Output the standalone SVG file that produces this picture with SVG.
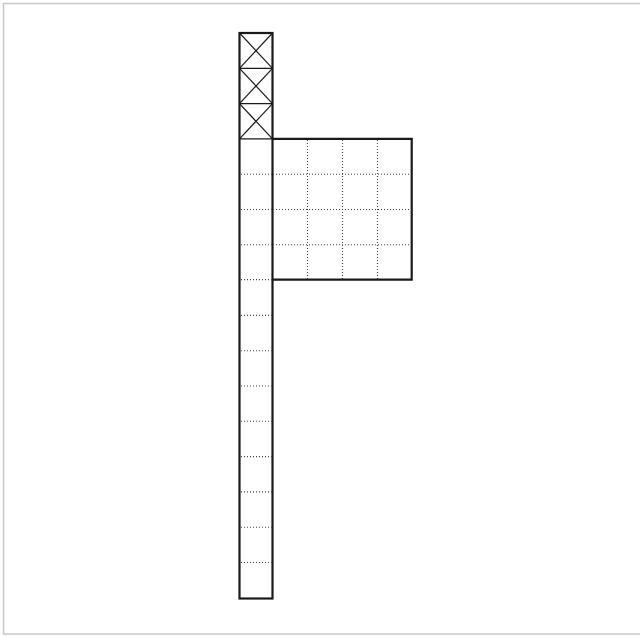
<svg xmlns="http://www.w3.org/2000/svg" width="640" height="636" viewBox="0 0 640 636">
<style>
.frame{fill:none;stroke:#c8c8c8;stroke-width:1.5}
.outline{fill:none;stroke:#1a1a1a;stroke-width:2.2}
.cross{fill:none;stroke:#1a1a1a;stroke-width:1.2}
.dot{fill:none;stroke:#444;stroke-width:1.1;stroke-dasharray:1 2}
</style>
<rect width="640" height="636" fill="#fff"/>
<rect class="frame" x="3.5" y="3.5" width="638" height="630.5"/>
<g id="column">
<rect class="outline" x="239.5" y="33" width="33" height="565.5"/>
<g class="cross">
<line x1="239.5" y1="68.3" x2="272.5" y2="68.3"/>
<line x1="239.5" y1="103.6" x2="272.5" y2="103.6"/>
<line x1="239.5" y1="138.9" x2="272.5" y2="138.9"/>
<line x1="239.5" y1="33" x2="272.5" y2="68.3"/>
<line x1="272.5" y1="33" x2="239.5" y2="68.3"/>
<line x1="239.5" y1="68.3" x2="272.5" y2="103.6"/>
<line x1="272.5" y1="68.3" x2="239.5" y2="103.6"/>
<line x1="239.5" y1="103.6" x2="272.5" y2="138.9"/>
<line x1="272.5" y1="103.6" x2="239.5" y2="138.9"/>
</g>
<g class="dot">
<line x1="241" y1="174.2" x2="272" y2="174.2"/>
<line x1="241" y1="209.5" x2="272" y2="209.5"/>
<line x1="241" y1="244.8" x2="272" y2="244.8"/>
<line x1="241" y1="279.6" x2="272" y2="279.6"/>
<line x1="241" y1="315.4" x2="272" y2="315.4"/>
<line x1="241" y1="350.7" x2="272" y2="350.7"/>
<line x1="241" y1="386" x2="272" y2="386"/>
<line x1="241" y1="421.3" x2="272" y2="421.3"/>
<line x1="241" y1="456.6" x2="272" y2="456.6"/>
<line x1="241" y1="491.9" x2="272" y2="491.9"/>
<line x1="241" y1="527.2" x2="272" y2="527.2"/>
<line x1="241" y1="562.5" x2="272" y2="562.5"/>
</g>
</g>
<g id="grid">
<g class="dot">
<line x1="307.5" y1="140" x2="307.5" y2="279"/>
<line x1="342.5" y1="140" x2="342.5" y2="279"/>
<line x1="377.5" y1="140" x2="377.5" y2="279"/>
<line x1="273" y1="174.2" x2="411" y2="174.2"/>
<line x1="273" y1="209.5" x2="411" y2="209.5"/>
<line x1="273" y1="244.8" x2="411" y2="244.8"/>
</g>
<polyline class="outline" points="272.5,138.9 411.7,138.9 411.7,279.6 272.5,279.6"/>
</g>
</svg>
